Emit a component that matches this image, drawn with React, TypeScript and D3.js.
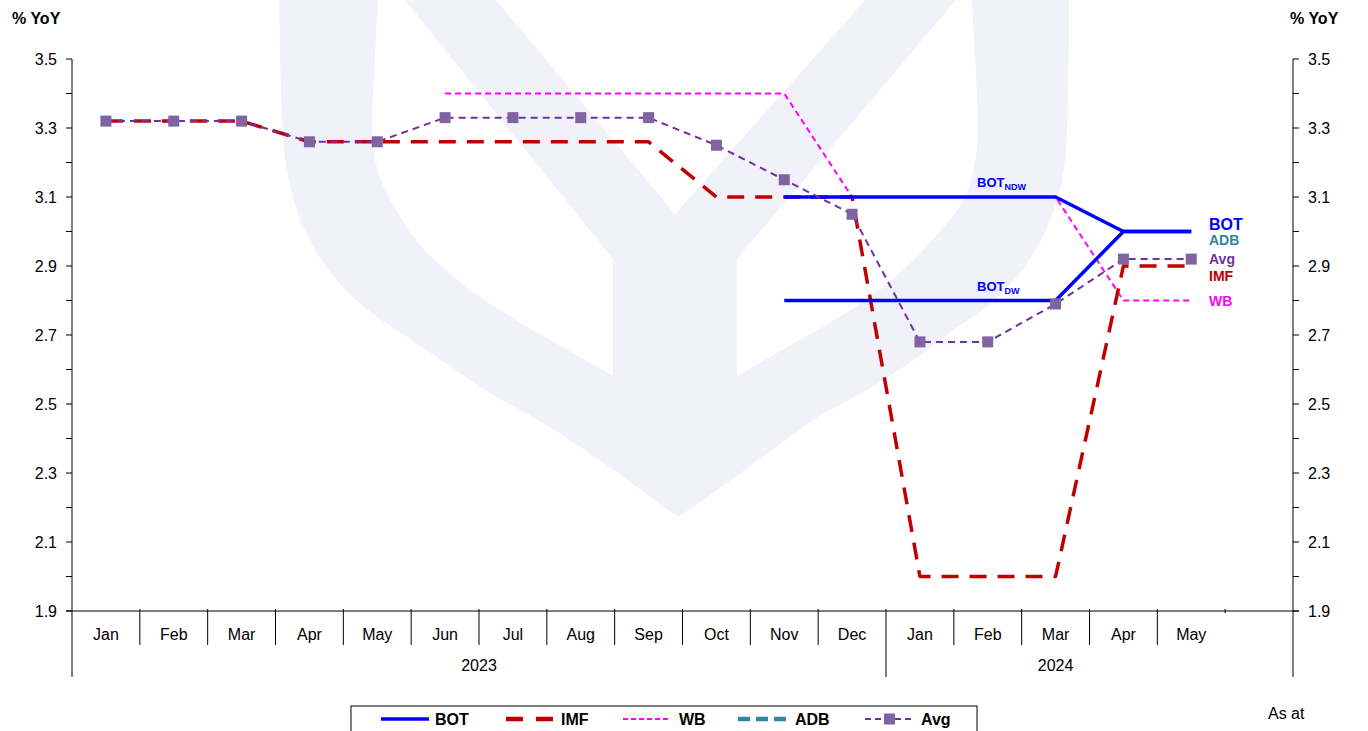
import React from 'react';
import * as d3 from 'd3';

const months = ['Jan', 'Feb', 'Mar', 'Apr', 'May', 'Jun', 'Jul', 'Aug', 'Sep', 'Oct', 'Nov', 'Dec',
  'Jan', 'Feb', 'Mar', 'Apr', 'May', ''];
const years = [{ label: '2023', from: 0, to: 12 }, { label: '2024', from: 12, to: 17 }];
const yTicks = [1.9, 2.1, 2.3, 2.5, 2.7, 2.9, 3.1, 3.3, 3.5];

type V = number | null;
const avg: V[] = [3.32, 3.32, 3.32, 3.26, 3.26, 3.33, 3.33, 3.33, 3.33, 3.25, 3.15, 3.05, 2.68, 2.68, 2.79, 2.92, 2.92, null];
const imf: V[] = [3.32, 3.32, 3.32, 3.26, 3.26, 3.26, 3.26, 3.26, 3.26, 3.1, 3.1, 3.1, 2.0, 2.0, 2.0, 2.9, 2.9, null];
const wb: V[] = [null, null, null, null, null, 3.4, 3.4, 3.4, 3.4, 3.4, 3.4, 3.1, 3.1, 3.1, 3.1, 2.8, 2.8, null];
const adb: V[] = [null, null, null, null, null, null, null, null, null, null, null, null, null, null, null, 3.0, 3.0, null];
const botNdw: V[] = [null, null, null, null, null, null, null, null, null, null, 3.1, 3.1, 3.1, 3.1, 3.1, 3.0, 3.0, null];
const botDw: V[] = [null, null, null, null, null, null, null, null, null, null, 2.8, 2.8, 2.8, 2.8, 2.8, 3.0, 3.0, null];

const W = 1368, H = 731;
const left = 72, right = 1293, top = 59, bottom = 611;
const FONT = '"Liberation Sans", Arial, sans-serif';

// faint watermark logo outline
const wmU = 'M279,0 C280,60 281,110 284,150 C292,230 330,290 394,328 C450,365 480,390 528,414 C590,450 640,490 678,517 '
  + 'C720,490 770,450 822,414 C870,390 910,365 956,328 C1020,290 1060,230 1066,150 C1068,110 1069,60 1069,0 '
  + 'L972,0 C975,60 978,100 978,138 C975,180 965,205 946,224 C925,250 905,270 876,293 C830,325 780,350 737,376 '
  + 'L613,376 C570,350 520,325 474,293 C445,270 420,250 405,224 C385,195 374,170 372,138 C372,100 375,60 378,0 Z';
const wmY = 'M405,0 L613,259 L613,376 L737,376 L737,259 L956,0 L865,0 L675,214 L496,0 Z';

export default function App() {
  const x = d3.scaleBand<number>().domain(d3.range(months.length)).range([left, right]).paddingInner(0).paddingOuter(0);
  const y = d3.scaleLinear().domain([1.9, 3.5]).range([bottom, top]);
  const cx = (i: number) => (x(i) as number) + x.bandwidth() / 2;
  const line = d3.line<V>().defined(d => d !== null).x((_, i) => cx(i)).y(d => y(d as number));
  const minor = d3.range(19, 36).map(v => v / 10);

  const series = [
    { data: adb, color: '#31859C', width: 3, dash: '9 5' },
    { data: wb, color: '#FF00FF', width: 2, dash: '6 4' },
    { data: imf, color: '#C00000', width: 3.5, dash: '17 11' },
    { data: botNdw, color: '#0000FF', width: 3.5, dash: null },
    { data: botDw, color: '#0000FF', width: 3.5, dash: null },
    { data: avg, color: '#7030A0', width: 2, dash: '7 5' },
  ];

  const endX = 1209;
  const endLabels = [
    { t: 'BOT', yc: 224, c: '#0000FF', s: 16 },
    { t: 'ADB', yc: 240, c: '#31859C', s: 14 },
    { t: 'Avg', yc: 259, c: '#7030A0', s: 14 },
    { t: 'IMF', yc: 276, c: '#C00000', s: 14 },
    { t: 'WB', yc: 301, c: '#FF00FF', s: 14 },
  ];

  const legend = [
    { t: 'BOT', x: 381, tx: 435, color: '#0000FF', w: 3.5, dash: null, mk: false },
    { t: 'IMF', x: 506, tx: 561, color: '#C00000', w: 4.5, dash: '17 13', mk: false },
    { t: 'WB', x: 623, tx: 679, color: '#FF00FF', w: 2, dash: '5 3', mk: false },
    { t: 'ADB', x: 738, tx: 795, color: '#31859C', w: 4.5, dash: '12 6', mk: false },
    { t: 'Avg', x: 865, tx: 921, color: '#7030A0', w: 2, dash: '6 4', mk: true },
  ];

  return (
    <svg width={W} height={H} style={{ display: 'block', position: 'absolute', left: 0, top: 0 }} fontFamily={FONT}>
      <rect width={W} height={H} fill="#fff" />
      <g fill="#F0F1F9">
        <path d={wmU} />
        <path d={wmY} />
      </g>

      {/* y axes */}
      <line x1={left} x2={left} y1={top} y2={677} stroke="#000" />
      <line x1={right} x2={right} y1={top} y2={677} stroke="#000" />
      {minor.map(v => (
        <g key={v}>
          <line x1={left - 6} x2={left} y1={y(v)} y2={y(v)} stroke="#000" />
          <line x1={right} x2={right + 6} y1={y(v)} y2={y(v)} stroke="#000" />
        </g>
      ))}
      {yTicks.map(v => (
        <g key={v} fontSize={16} fill="#000">
          <text x={left - 15} y={y(v) + 6} textAnchor="end">{v.toFixed(1)}</text>
          <text x={right + 15} y={y(v) + 6}>{v.toFixed(1)}</text>
        </g>
      ))}
      <text x={12} y={24} fontSize={16} fontWeight="bold">% YoY</text>
      <text x={1290} y={24} fontSize={16} fontWeight="bold">% YoY</text>

      {/* x axis */}
      <line x1={left - 6} x2={right + 6} y1={bottom} y2={bottom} stroke="#000" />
      {months.map((m, i) => (
        <g key={i}>
          {i > 0 && i !== 12 && m !== '' && (
            <line x1={x(i) as number} x2={x(i) as number} y1={bottom - 2} y2={645} stroke="#000" />
          )}
          {i === 17 && <line x1={x(i) as number} x2={x(i) as number} y1={bottom - 2} y2={bottom + 2} stroke="#000" />}
          <text x={cx(i)} y={640} fontSize={16} textAnchor="middle">{m}</text>
        </g>
      ))}
      <line x1={x(12) as number} x2={x(12) as number} y1={bottom - 2} y2={677} stroke="#000" />
      {years.map(g => (
        <text key={g.label} x={((x(g.from) as number) + (x(g.to) as number)) / 2} y={671} fontSize={16} textAnchor="middle">{g.label}</text>
      ))}

      {/* series */}
      {series.map((s, k) => (
        <path key={k} d={line(s.data) || ''} fill="none" stroke={s.color} strokeWidth={s.width}
          strokeDasharray={s.dash || undefined} strokeLinejoin="round" />
      ))}
      {avg.map((v, i) => v === null ? null : (
        <rect key={i} x={cx(i) - 5.5} y={y(v) - 5.5} width={11} height={11} fill="#8064A2" />
      ))}

      <text x={977} y={y(3.1) - 10} fontSize={13} fontWeight="bold" fill="#0000FF">BOT<tspan fontSize={9} dy={3}>NDW</tspan></text>
      <text x={977} y={y(2.8) - 10} fontSize={13} fontWeight="bold" fill="#0000FF">BOT<tspan fontSize={9} dy={3}>DW</tspan></text>

      {endLabels.map(l => (
        <text key={l.t} x={endX} y={l.yc} dy="0.36em" fontSize={l.s} fontWeight="bold" fill={l.c}>{l.t}</text>
      ))}

      {/* legend */}
      <rect x={351} y={706} width={626} height={30} fill="#fff" stroke="#000" />
      {legend.map(l => (
        <g key={l.t}>
          <line x1={l.x} x2={l.x + 48} y1={719} y2={719} stroke={l.color} strokeWidth={l.w} strokeDasharray={l.dash || undefined} />
          {l.mk && <rect x={l.x + 19} y={713.5} width={11} height={11} fill="#8064A2" />}
          <text x={l.tx} y={725} fontSize={16} fontWeight="bold">{l.t}</text>
        </g>
      ))}
      <text x={1268} y={719} fontSize={16}>As at</text>
    </svg>
  );
}
